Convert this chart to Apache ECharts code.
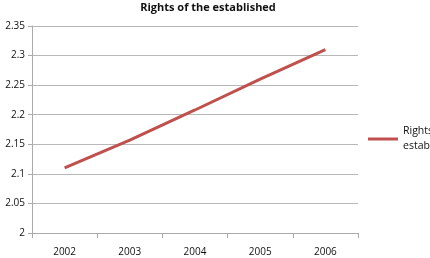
<!DOCTYPE html>
<html>
<head>
<meta charset="utf-8">
<script src="https://cdn.jsdelivr.net/npm/echarts@6/dist/echarts.min.js"></script>
<style>
  html, body { margin: 0; padding: 0; background: #fff; }
  #chart { width: 430px; height: 258px; }
</style>
</head>
<body>
<div id="chart"></div>
<script>
// data
var years = ['2002', '2003', '2004', '2005', '2006'];
var rights = [2.11, 2.157, 2.208, 2.26, 2.31];
var seriesName = 'Rights of the established';

var chart = echarts.init(document.getElementById('chart'));
var labelFont = { fontFamily: 'Open Sans', fontSize: 10, color: '#111' };

chart.setOption({
  animation: false,
  title: {
    text: seriesName,
    left: 203,
    textAlign: 'center',
    top: -3,
    textStyle: { fontFamily: 'Open Sans', fontSize: 11, fontWeight: 'bold', color: '#111' }
  },
  legend: {
    left: 363,
    top: 119,
    icon: 'rect',
    itemWidth: 30,
    itemHeight: 3,
    itemGap: 6,
    formatter: function () { return 'Rights of the\nestablished'; },
    textStyle: { fontFamily: 'Open Sans', fontSize: 10.5, color: '#111', lineHeight: 15 },
    data: [seriesName]
  },
  grid: { left: 32, right: 72, top: 26, bottom: 25 },
  xAxis: {
    type: 'category',
    data: years,
    boundaryGap: true,
    axisLine: { lineStyle: { color: '#aaa' } },
    axisTick: { show: true, length: 5, lineStyle: { color: '#aaa' } },
    axisLabel: Object.assign({ margin: 14 }, labelFont)
  },
  yAxis: {
    type: 'value',
    min: 2,
    max: 2.35,
    interval: 0.05,
    axisLine: { show: true, lineStyle: { color: '#aaa' } },
    axisTick: { show: true, length: 4, lineStyle: { color: '#aaa' } },
    axisLabel: Object.assign({ margin: 7, formatter: function (v) { return String(+v.toFixed(2)); } }, labelFont),
    splitLine: { lineStyle: { color: '#b8b8b8' } }
  },
  series: [{
    name: seriesName,
    type: 'line',
    data: rights,
    symbol: 'none',
    lineStyle: { color: '#C0504D', width: 3 },
    itemStyle: { color: '#C0504D' }
  }]
});
</script>
</body>
</html>
